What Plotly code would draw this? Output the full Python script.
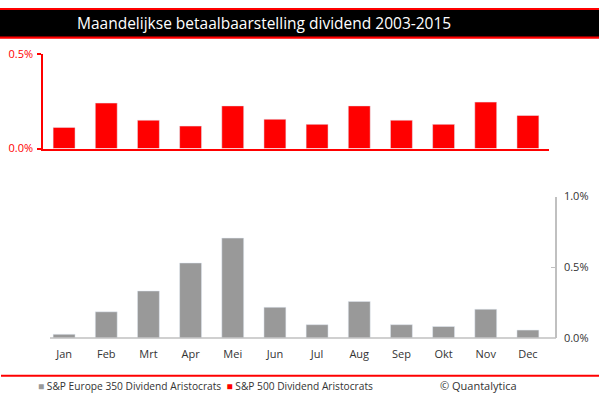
import plotly.graph_objects as go

months = ["Jan", "Feb", "Mrt", "Apr", "Mei", "Jun", "Jul", "Aug", "Sep", "Okt", "Nov", "Dec"]
sp500 = [0.112, 0.241, 0.150, 0.119, 0.226, 0.155, 0.128, 0.226, 0.150, 0.128, 0.246, 0.175]
europe350 = [0.027, 0.186, 0.333, 0.531, 0.707, 0.218, 0.095, 0.259, 0.095, 0.082, 0.204, 0.057]
top_ticks = [0.0, 0.5]
bottom_ticks = [0.0, 0.5, 1.0]

W, H = 599, 399
FONT = "Open Sans"
RED = "#ff0000"
GREY = "#999999"

def px(x):
    return x / W

def py(y):
    return (H - y) / H

fig = go.Figure()
fig.add_trace(go.Bar(x=months, y=sp500, marker_color=RED, width=0.52,
                     xaxis="x", yaxis="y", name="S&P 500 Dividend Aristocrats",
                     showlegend=False))
fig.add_trace(go.Bar(x=months, y=europe350, marker_color=GREY, width=0.52,
                     xaxis="x2", yaxis="y2", name="S&P Europe 350 Dividend Aristocrats",
                     showlegend=False))

fig.update_layout(
    width=W, height=H, autosize=False,
    margin=dict(l=0, r=0, t=0, b=0, pad=0),
    paper_bgcolor="white", plot_bgcolor="white",
    font=dict(family=FONT, size=11, color="#333333"),
    xaxis=dict(domain=[px(43), px(549)], anchor="y", showline=True, linecolor=RED,
               linewidth=1.5, showticklabels=False, ticks="", showgrid=False,
               zeroline=False),
    yaxis=dict(domain=[py(146), py(48)], range=[0, 0.5], anchor="x",
               showline=True, linecolor=RED, linewidth=1.5, ticks="outside",
               ticklen=4, tickcolor=RED, tickwidth=1.5, tickvals=top_ticks,
               ticktext=[f"{v:.1f}%" for v in top_ticks], ticklabelstandoff=2,
               tickfont=dict(color=RED, size=11, family=FONT),
               showgrid=False, zeroline=False),
    xaxis2=dict(domain=[px(43), px(549)], anchor="y2", showline=False,
                ticks="", showgrid=False, zeroline=False, ticklabelstandoff=8,
                tickfont=dict(color="#333333", size=11, family=FONT)),
    yaxis2=dict(domain=[py(343), py(196)], range=[0, 1.0], anchor="free",
                position=px(556), side="right", showline=True, linecolor="#c0c0c0",
                linewidth=1.5, ticks="inside", ticklen=4, tickcolor="#c0c0c0",
                tickvals=bottom_ticks, ticktext=[f"{v:.1f}%" for v in bottom_ticks],
                ticklabelstandoff=5,
                tickfont=dict(color="#333333", size=11, family=FONT),
                showgrid=False, zeroline=False),
)

shapes = [
    # title bar
    dict(type="rect", xref="paper", yref="paper", x0=0, x1=1, y0=py(32), y1=py(0),
         fillcolor=RED, line=dict(width=0), layer="below"),
    dict(type="rect", xref="paper", yref="paper", x0=0, x1=1, y0=py(29.5), y1=py(2),
         fillcolor="black", line=dict(width=0), layer="below"),
    # bottom grey baseline
    dict(type="line", xref="paper", yref="paper", x0=px(50), x1=px(556),
         y0=py(343), y1=py(343), line=dict(color="#c0c0c0", width=1.5)),
    # footer red line
    dict(type="line", xref="paper", yref="paper", x0=px(1), x1=1,
         y0=py(382), y1=py(382), line=dict(color=RED, width=2)),
]
fig.update_layout(shapes=shapes)

annotations = [
    dict(text="Maandelijkse betaalbaarstelling dividend 2003-2015", xref="paper",
         yref="paper", x=px(75), y=py(16), xanchor="left", yanchor="middle",
         showarrow=False, font=dict(color="white", size=15.5, family=FONT)),
    dict(text=f"<span style='color:{GREY}'>■</span> S&P Europe 350 Dividend Aristocrats  "
              f"<span style='color:{RED}'>■</span> S&P 500 Dividend Aristocrats",
         xref="paper", yref="paper", x=px(36), y=py(393), xanchor="left",
         yanchor="middle", showarrow=False, font=dict(color="#333333", size=10.2, family=FONT)),
    dict(text="© Quantalytica", xref="paper", yref="paper", x=px(519), y=py(392),
         xanchor="right", yanchor="middle", showarrow=False,
         font=dict(color="#333333", size=11, family=FONT)),
]
fig.update_layout(annotations=annotations)

fig.write_html(
    "out.html",
    config={"displayModeBar": False, "responsive": False},
    post_script="document.body.style.margin='0';",
)
